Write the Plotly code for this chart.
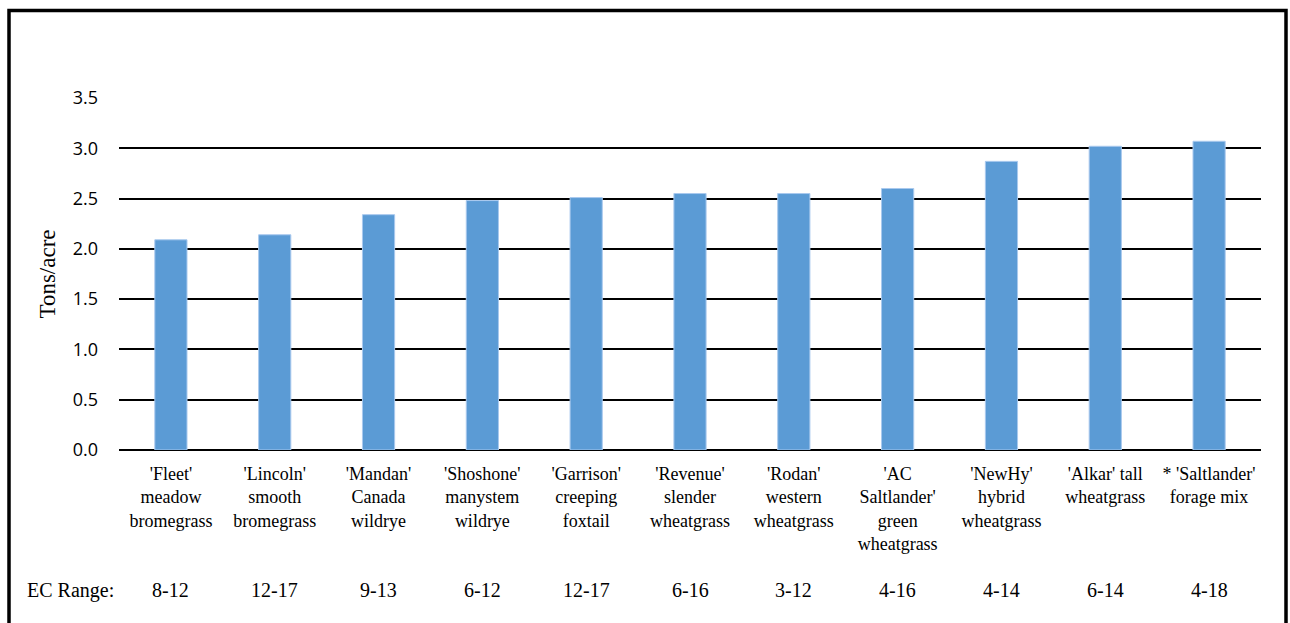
import plotly.graph_objects as go

categories = [
    "'Fleet'<br>meadow<br>bromegrass",
    "'Lincoln'<br>smooth<br>bromegrass",
    "'Mandan'<br>Canada<br>wildrye",
    "'Shoshone'<br>manystem<br>wildrye",
    "'Garrison'<br>creeping<br>foxtail",
    "'Revenue'<br>slender<br>wheatgrass",
    "'Rodan'<br>western<br>wheatgrass",
    "'AC<br>Saltlander'<br>green<br>wheatgrass",
    "'NewHy'<br>hybrid<br>wheatgrass",
    "'Alkar' tall<br>wheatgrass",
    "* 'Saltlander'<br>forage mix",
]
yields = [2.09, 2.14, 2.34, 2.48, 2.51, 2.55, 2.55, 2.60, 2.87, 3.02, 3.07]
ec_ranges = ["8-12", "12-17", "9-13", "6-12", "12-17", "6-16", "3-12", "4-16", "4-14", "6-14", "4-18"]
y_ticks = [0.0, 0.5, 1.0, 1.5, 2.0, 2.5, 3.0, 3.5]

W, H = 1290, 623
L, R, T, B = 119, 1261, 98, 450
pw, ph = R - L, B - T

def px(x):
    return (x - L) / pw

def py(y):
    return (B - y) / ph

fig = go.Figure()
fig.add_trace(go.Bar(
    x=list(range(len(categories))),
    y=yields,
    marker=dict(color="#5B9BD5", line=dict(color="#A9C9EE", width=1)),
    width=0.31,
    hoverinfo="y",
))

annotations = []
for i, ec in enumerate(ec_ranges):
    annotations.append(dict(
        x=i, y=py(590), xref="x", yref="paper", text=ec, showarrow=False,
        font=dict(family="Liberation Serif", size=20, color="black"),
        xanchor="center", yanchor="middle",
    ))
annotations.append(dict(
    x=px(25), y=py(590), xref="paper", yref="paper", text="EC Range:", showarrow=False,
    font=dict(family="Liberation Serif", size=20, color="black"),
    xanchor="left", yanchor="middle",
))

shapes = [dict(
    type="rect", xref="paper", yref="paper",
    x0=px(9), x1=px(1286), y0=py(640), y1=py(10.5),
    line=dict(color="black", width=3.5), fillcolor="rgba(0,0,0,0)", layer="above",
)]

fig.update_layout(
    width=W, height=H,
    margin=dict(l=L, r=W - R, t=T, b=H - B),
    paper_bgcolor="white", plot_bgcolor="white",
    showlegend=False,
    annotations=annotations,
    shapes=shapes,
    xaxis=dict(
        tickmode="array", tickvals=list(range(len(categories))), ticktext=categories,
        range=[-0.5, len(categories) - 0.5],
        tickfont=dict(family="Liberation Serif", size=18, color="black"),
        showgrid=False, showline=False, zeroline=False, ticks="", tickangle=0,
        ticklabelstandoff=11,
    ),
    yaxis=dict(
        range=[0, 3.5], tickvals=y_ticks, ticktext=[f"{v:.1f}" for v in y_ticks],
        tickfont=dict(family="Open Sans", size=18, color="black"),
        showgrid=True, gridcolor="black", gridwidth=2,
        zeroline=True, zerolinecolor="black", zerolinewidth=2,
        showline=False, ticks="", ticklabelstandoff=20,
        title=dict(text="Tons/acre", font=dict(family="Liberation Serif", size=23, color="black"), standoff=10),
    ),
)

fig.write_html("out.html")
